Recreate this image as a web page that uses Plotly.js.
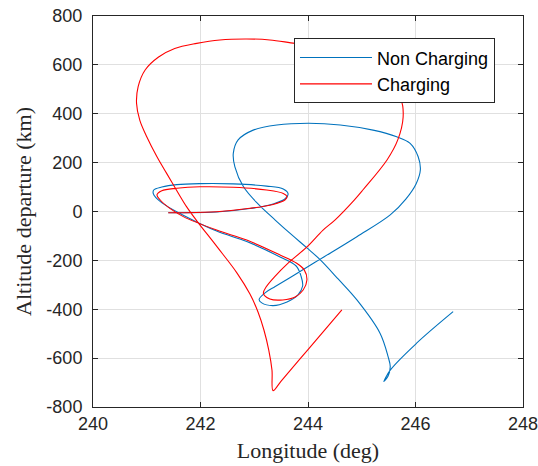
<!DOCTYPE html>
<html>
<head>
<meta charset="utf-8">
<script src="https://cdn.plot.ly/plotly-3.0.1.min.js"></script>
<style>html,body{margin:0;padding:0;background:#fff;}#chart{width:538px;height:466px;}</style>
</head>
<body>
<div id="chart"></div>
<script>
// Non Charging trajectory (longitude deg, altitude departure km)
var ncLon = [241.40,241.68,242.30,242.92,243.35,243.57,243.63,243.54,243.23,242.61,241.99,241.56,241.28,241.13,241.12,241.17,241.34,241.67,242.30,242.86,243.48,243.78,243.87,243.90,243.81,243.61,243.35,243.14,243.09,243.20,243.39,243.67,244.22,244.91,245.53,245.82,246.01,246.09,246.05,245.90,245.65,245.21,244.60,244.01,243.42,242.98,242.70,242.61,242.64,242.80,243.07,243.39,243.70,243.98,244.22,244.56,244.91,245.34,245.49,245.53,245.49,245.41,245.53,246.02,246.70];
var ncAlt = [-5,-5,-2,12,31,51,72,92,104,113,114,110,100,88,74,57,27,-14,-80,-123,-186,-223,-264,-305,-342,-370,-385,-374,-360,-333,-307,-270,-196,-103,-14,51,113,170,224,279,306,333,354,361,354,333,293,238,183,101,31,-35,-96,-149,-196,-276,-362,-498,-594,-635,-673,-696,-649,-539,-410];

// Charging trajectory
var chLon = [241.40,241.68,242.30,242.92,243.35,243.57,243.61,243.54,243.23,242.61,241.99,241.56,241.28,241.19,241.25,241.43,241.68,242.30,242.86,243.48,243.79,243.93,243.98,243.91,243.76,243.53,243.29,243.17,243.22,243.39,243.61,243.98,244.28,244.50,244.86,245.02,245.47,245.67,245.77,245.73,245.53,245.34,245.06,244.69,244.22,243.76,243.29,242.86,242.36,241.93,241.52,241.22,240.97,240.84,240.81,240.87,241.00,241.19,241.37,241.59,241.74,241.92,242.31,242.68,242.92,243.07,243.18,243.27,243.33,243.35,243.50,244.00,244.63];
var chAlt = [-5,-5,-1,13,29,47,61,74,88,99,101,95,85,68,47,13,-21,-76,-117,-178,-212,-239,-280,-321,-350,-362,-358,-335,-309,-264,-215,-145,-76,-35,47,88,211,293,387,456,505,559,612,653,677,688,702,706,702,688,667,632,579,511,443,374,306,224,156,74,20,-35,-145,-252,-338,-411,-485,-567,-649,-733,-694,-565,-403];

var seriesNames = ['Non Charging', 'Charging'];
var xTicks = [240,242,244,246,248];
var yTicks = [-800,-600,-400,-200,0,200,400,600,800];

var axisColor = '#262626';
var tickFont = {family: 'Liberation Sans, Arial, sans-serif', size: 18, color: axisColor};
var titleFont = {family: 'Liberation Serif, Times New Roman, serif', size: 22, color: axisColor};

var traces = [
  {x: ncLon, y: ncAlt, name: seriesNames[0], type: 'scatter', mode: 'lines',
   line: {color: '#0072BD', width: 1.1, shape: 'spline', smoothing: 1}},
  {x: chLon, y: chAlt, name: seriesNames[1], type: 'scatter', mode: 'lines',
   line: {color: '#FF0000', width: 1.1, shape: 'spline', smoothing: 1}}
];

var layout = {
  width: 538, height: 466,
  margin: {l: 93, r: 15, t: 16, b: 59, pad: 0},
  paper_bgcolor: '#ffffff', plot_bgcolor: '#ffffff',
  showlegend: true,
  legend: {
    x: 0.4674, y: 0.943, xanchor: 'left', yanchor: 'top',
    bgcolor: '#ffffff', bordercolor: axisColor, borderwidth: 1,
    font: {family: 'Liberation Sans, Arial, sans-serif', size: 18, color: '#000000'},
    itemwidth: 72, tracegroupgap: 0
  },
  xaxis: {
    range: [240, 248], tickvals: xTicks, ticktext: xTicks.map(String),
    showgrid: true, gridcolor: '#e0e0e0', gridwidth: 1, zeroline: false,
    showline: true, linecolor: axisColor, linewidth: 1, mirror: 'ticks',
    ticks: 'inside', ticklen: 5, tickcolor: axisColor, tickfont: tickFont,
    ticklabeloverflow: 'allow',
    title: {text: 'Longitude (deg)', font: titleFont, standoff: 10}
  },
  yaxis: {
    range: [-800, 800], tickvals: yTicks, ticktext: yTicks.map(String),
    showgrid: true, gridcolor: '#e0e0e0', gridwidth: 1, zeroline: false,
    showline: true, linecolor: axisColor, linewidth: 1, mirror: 'ticks',
    ticks: 'inside', ticklen: 5, tickcolor: axisColor, tickfont: tickFont,
    ticklabelstandoff: 6,
    title: {text: 'Altitude departure (km)', font: titleFont, standoff: 8}
  }
};

Plotly.newPlot('chart', traces, layout, {displayModeBar: false, staticPlot: true});
</script>
</body>
</html>
